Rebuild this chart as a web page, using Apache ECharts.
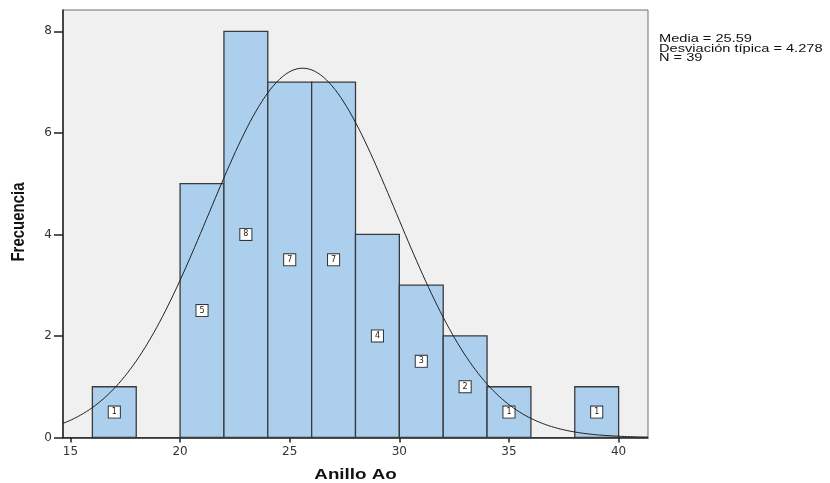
<!DOCTYPE html>
<html>
<head>
<meta charset="utf-8">
<script src="https://cdn.jsdelivr.net/npm/echarts@6/dist/echarts.min.js"></script>
<style>
  html, body { margin: 0; padding: 0; background: #ffffff; }
  #chart { width: 830px; height: 483px; }
</style>
</head>
<body>
<div id="chart"></div>
<script>
// Histogram of "Anillo Ao" with fitted normal curve
const binStarts = [16, 18, 20, 22, 24, 26, 28, 30, 32, 34, 36, 38];
const binWidth = 2;
const counts = [1, 0, 5, 8, 7, 7, 4, 3, 2, 1, 0, 1];
const xTicks = [15, 20, 25, 30, 35, 40];
const yTicks = [0, 2, 4, 6, 8];
const mean = 25.59;
const stdDev = 4.278;
const total = 39;
const xTitle = 'Anillo Ao';
const yTitle = 'Frecuencia';

const xMin = 14.66, xMax = 41.34;
const yMin = 0, yMax = 8.42;

// Expected frequency per bin under the normal fit
function normalCurve() {
  const pts = [];
  const steps = 200;
  const scale = total * binWidth / (stdDev * Math.sqrt(2 * Math.PI));
  for (let i = 0; i <= steps; i++) {
    const x = xMin + (xMax - xMin) * i / steps;
    const z = (x - mean) / stdDev;
    pts.push([x, scale * Math.exp(-0.5 * z * z)]);
  }
  return pts;
}

const barData = binStarts.map((s, i) => [s, s + binWidth, counts[i]]);

const tickFont = { fontFamily: 'DejaVu Sans', fontSize: 12, color: '#333' };
const titleFont = 'Liberation Sans';

const chart = echarts.init(document.getElementById('chart'));
chart.setOption({
  animation: false,
  backgroundColor: '#ffffff',
  grid: {
    left: 63, top: 10, right: 182, bottom: 45.5,
    show: true, backgroundColor: '#f0f0f0', borderColor: '#6e6e6e', borderWidth: 1
  },
  xAxis: {
    type: 'value', min: xMin, max: xMax,
    axisLine: { show: true, lineStyle: { color: '#222', width: 1.5 } },
    axisTick: { show: true, length: 5, lineStyle: { color: '#222', width: 1.5 }, customValues: xTicks },
    axisLabel: Object.assign({ margin: 8, customValues: xTicks }, tickFont),
    splitLine: { show: false }
  },
  yAxis: {
    type: 'value', min: yMin, max: yMax,
    axisLine: { show: true, lineStyle: { color: '#222', width: 1.5 } },
    axisTick: { show: true, length: 9, lineStyle: { color: '#222', width: 1.5 }, customValues: yTicks },
    axisLabel: Object.assign({ margin: 11, customValues: yTicks }, tickFont),
    splitLine: { show: false }
  },
  series: [
    {
      type: 'custom',
      data: barData,
      encode: { x: [0, 1], y: 2 },
      renderItem: function (params, api) {
        const c = api.value(2);
        if (!c) return null;
        const p0 = api.coord([api.value(0), 0]);
        const p1 = api.coord([api.value(1), c]);
        const mid = api.coord([(api.value(0) + api.value(1)) / 2, c / 2]);
        return {
          type: 'group',
          children: [
            {
              type: 'rect',
              shape: { x: p0[0], y: p1[1], width: p1[0] - p0[0], height: p0[1] - p1[1] },
              style: { fill: '#accfee', stroke: '#3a3a3a', lineWidth: 1.3 }
            },
            {
              type: 'text',
              x: mid[0], y: mid[1],
              style: {
                text: String(c),
                fontFamily: 'DejaVu Sans', fontSize: 8, fill: '#222',
                align: 'center', verticalAlign: 'middle',
                backgroundColor: '#ffffff', borderColor: '#333', borderWidth: 1,
                padding: [2, 3, 1, 3]
              }
            }
          ]
        };
      },
      z: 2
    },
    {
      type: 'line',
      data: normalCurve(),
      showSymbol: false,
      smooth: false,
      lineStyle: { color: '#222', width: 1 },
      z: 3
    }
  ],
  graphic: [
    {
      // axis titles, drawn slightly widened
      type: 'text',
      x: 355.5, y: 475, scaleX: 1.25,
      style: {
        text: xTitle, fontFamily: titleFont, fontWeight: 'bold', fontSize: 15, fill: '#111',
        align: 'center', verticalAlign: 'middle'
      }
    },
    {
      type: 'text',
      x: 19, y: 222, rotation: Math.PI / 2, scaleY: 1.28,
      style: {
        text: yTitle, fontFamily: titleFont, fontWeight: 'bold', fontSize: 15, fill: '#111',
        align: 'center', verticalAlign: 'middle'
      }
    },
    {
      // summary statistics
      type: 'text',
      x: 659, y: 35, scaleX: 1.46,
      style: {
        text: 'Media = ' + mean.toFixed(2) + '\nDesviación típica = ' + stdDev.toFixed(3) + '\nN = ' + total,
        fontFamily: titleFont, fontSize: 10, lineHeight: 9.2, fill: '#111',
        align: 'left', verticalAlign: 'top'
      }
    }
  ]
});
</script>
</body>
</html>
